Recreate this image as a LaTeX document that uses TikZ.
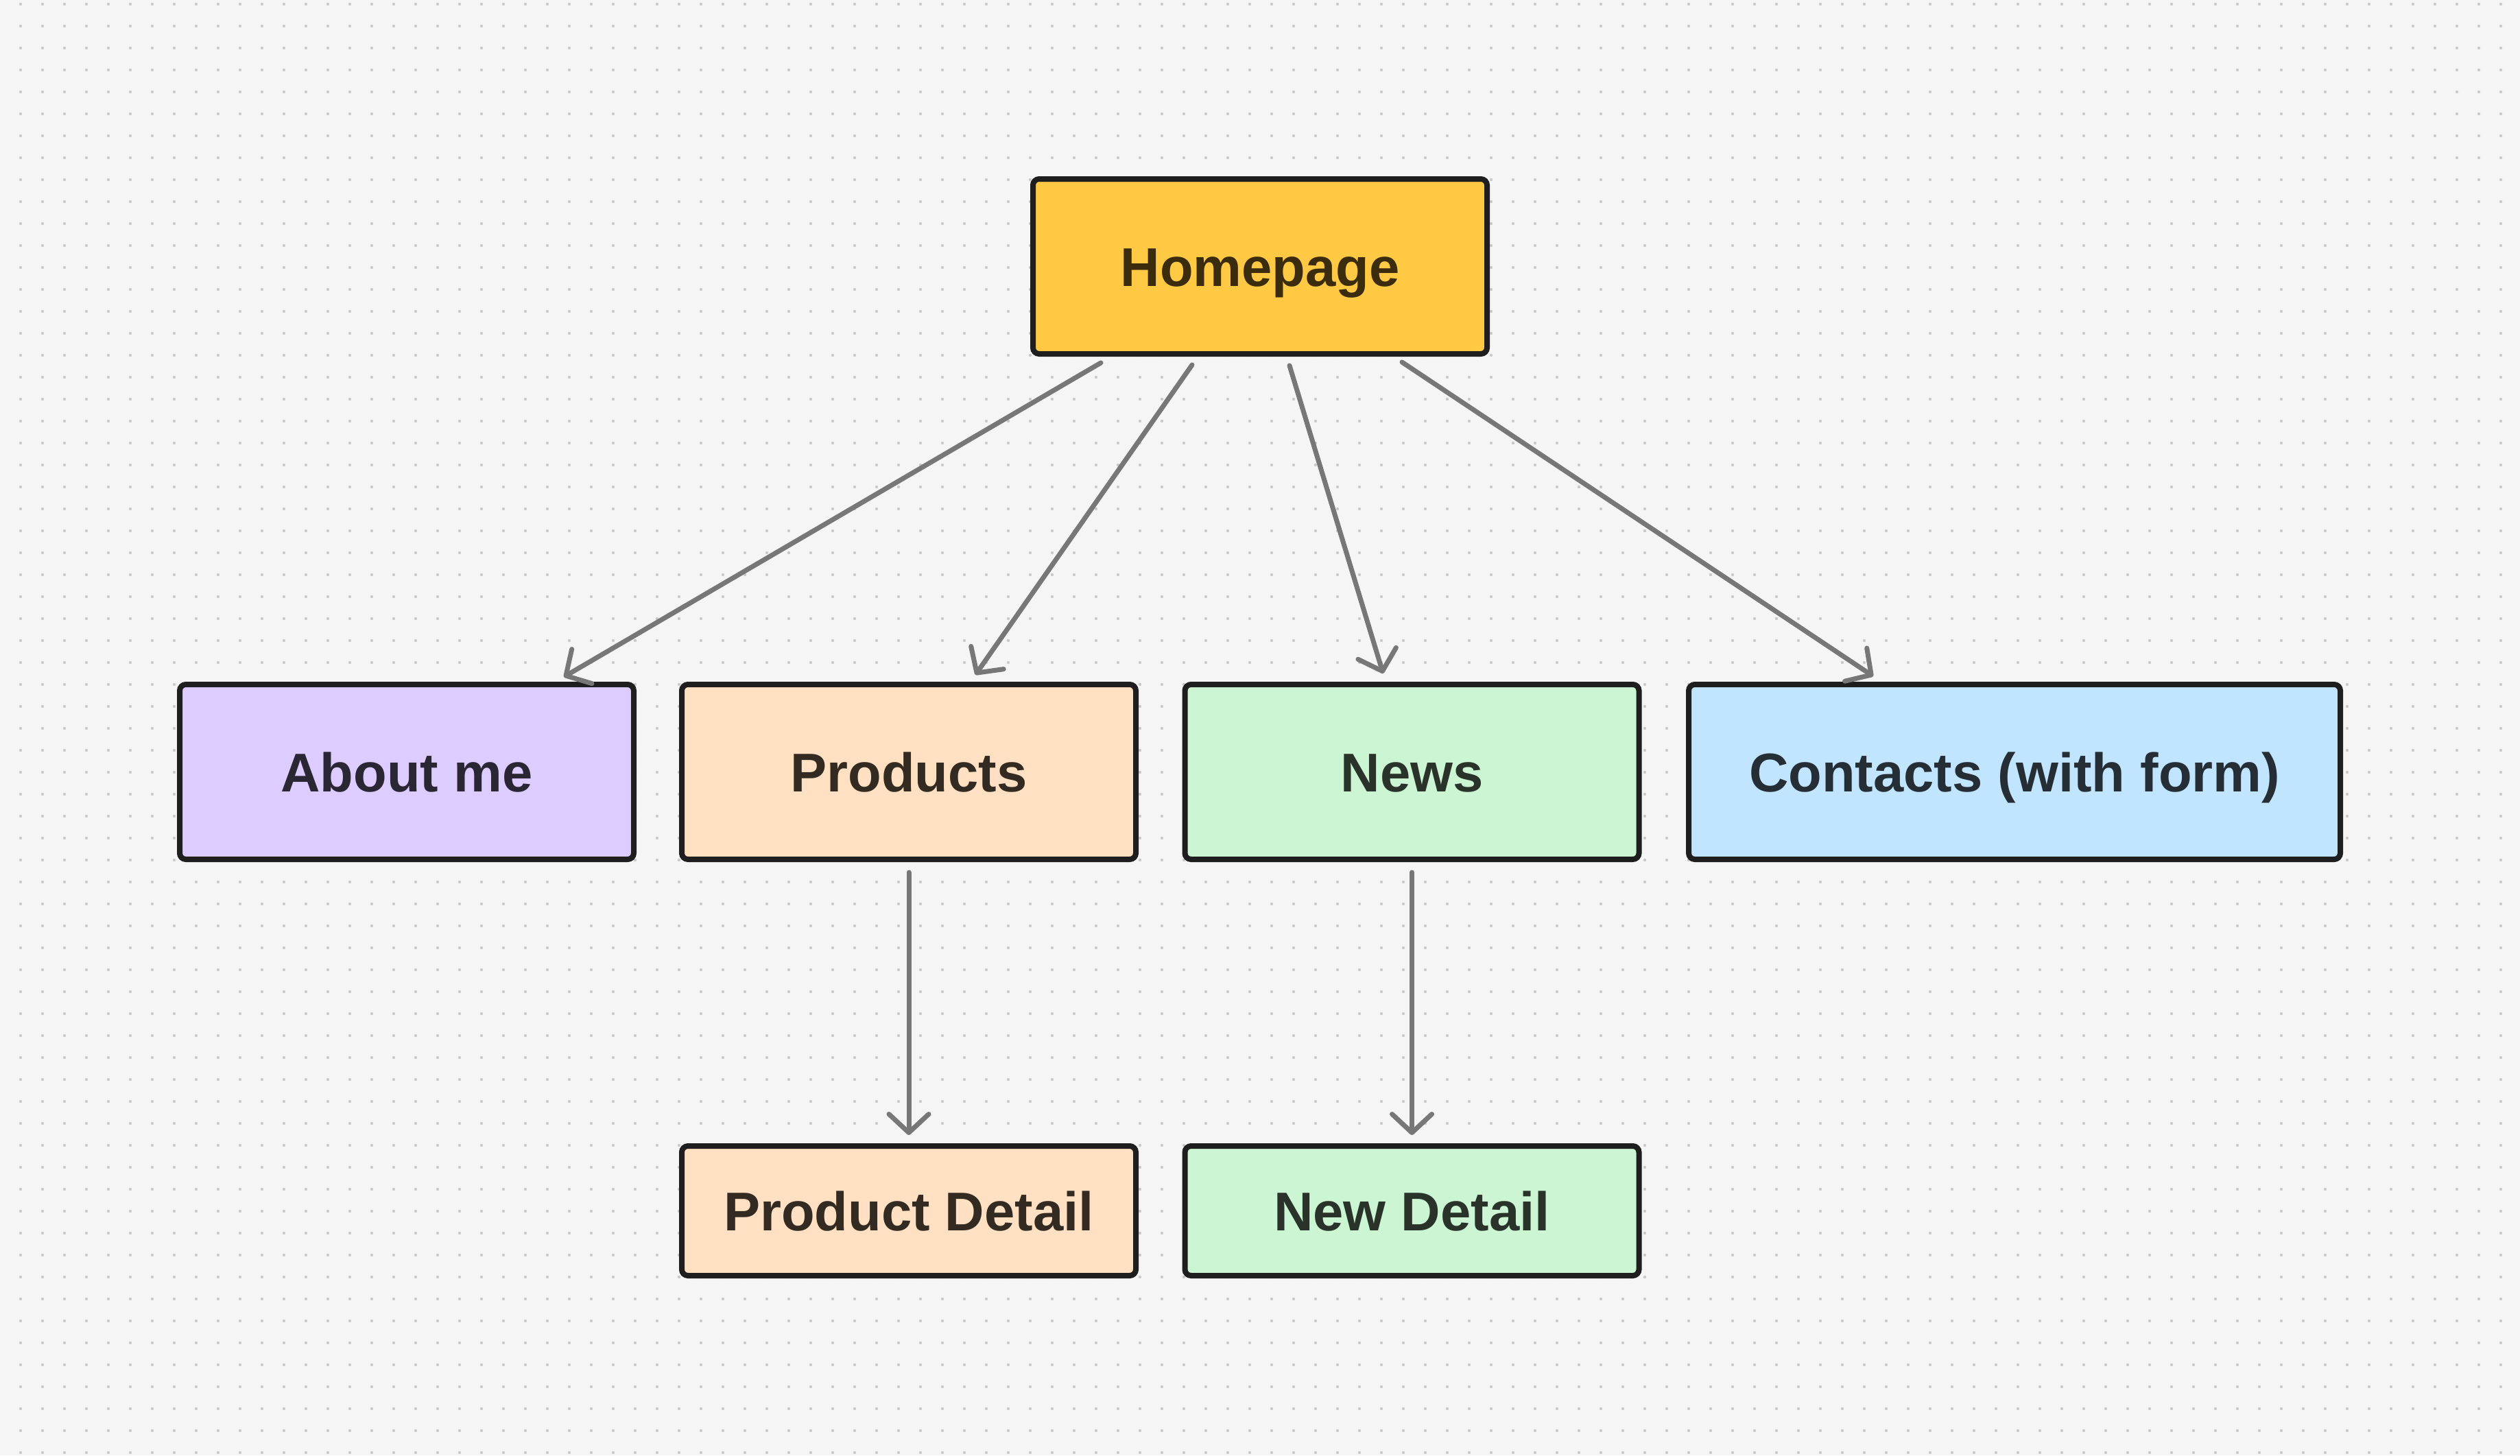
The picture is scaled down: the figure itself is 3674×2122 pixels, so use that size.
\documentclass[tikz,border=0pt]{standalone}
\usepackage{fontspec}
\setmainfont{Liberation Sans}
\usetikzlibrary{arrows.meta}
\definecolor{bgc}{HTML}{F5F5F5}
\definecolor{dotc}{HTML}{C9C9C9}
\definecolor{edgec}{HTML}{1E1E1E}
\definecolor{arrc}{HTML}{777777}
\definecolor{homef}{HTML}{FFC943}
\definecolor{homet}{HTML}{3A2C0C}
\definecolor{aboutf}{HTML}{DDCCFF}
\definecolor{aboutt}{HTML}{2B2633}
\definecolor{prodf}{HTML}{FFE0C2}
\definecolor{prodt}{HTML}{332B22}
\definecolor{newsf}{HTML}{CCF5D3}
\definecolor{newst}{HTML}{2A3329}
\definecolor{contf}{HTML}{C2E5FF}
\definecolor{contt}{HTML}{262E35}
\tikzset{
  boxnode/.style={draw=edgec, line width=8pt, rounded corners=9pt, inner sep=0pt,
    minimum width=662pt, minimum height=255pt,
    font=\fontsize{79.6pt}{90pt}\selectfont\bfseries, text height=57pt, text depth=0pt},
  detailnode/.style={boxnode, minimum height=189pt},
  link/.style={draw=arrc, line width=7pt, line cap=round, line join=round,
    -{Straight Barb[length=27pt,width=58pt,line cap=round,line join=round]}}
}
\begin{document}
\begin{tikzpicture}[x=1pt,y=-1pt]
\useasboundingbox (0,0) rectangle (3674,2122);
\fill[bgc] (0,0) rectangle (3674,2122);
\foreach \j in {0,...,66} {
  \fill[dotc] \foreach \i in {0,...,114} { (30+32*\i, 6+32*\j) circle (2.2) };
}

\node[boxnode, fill=homef, text=homet] (home) at (1837,388.5) {Homepage};
\node[boxnode, fill=aboutf, text=aboutt] (about) at (593,1125.5) {About me};
\node[boxnode, fill=prodf, text=prodt] (products) at (1325,1125.5) {Products};
\node[boxnode, fill=newsf, text=newst] (news) at (2058.5,1125.5) {News};
\node[boxnode, fill=contf, text=contt, minimum width=950pt] (contacts) at (2937,1125.5) {Contacts (with form)};
\node[detailnode, fill=prodf, text=prodt] (pdetail) at (1325,1765.5) {Product Detail};
\node[detailnode, fill=newsf, text=newst] (ndetail) at (2058.5,1765.5) {New Detail};

\draw[link] ([xshift=-232pt,yshift=-9pt]home.south) -- ([xshift=229pt,yshift=7pt]about.north);
\draw[link] ([xshift=-99pt,yshift=-12pt]home.south) -- ([xshift=97pt,yshift=10pt]products.north);
\draw[link] ([xshift=43pt,yshift=-13pt]home.south) -- ([xshift=-42pt,yshift=12pt]news.north);
\draw[link] ([xshift=207pt,yshift=-8pt]home.south) -- ([xshift=-206pt,yshift=8pt]contacts.north);
\draw[link] ([yshift=-15pt]products.south) -- ([yshift=12pt]pdetail.north);
\draw[link] ([yshift=-15pt]news.south) -- ([yshift=12pt]ndetail.north);
\end{tikzpicture}
\end{document}
